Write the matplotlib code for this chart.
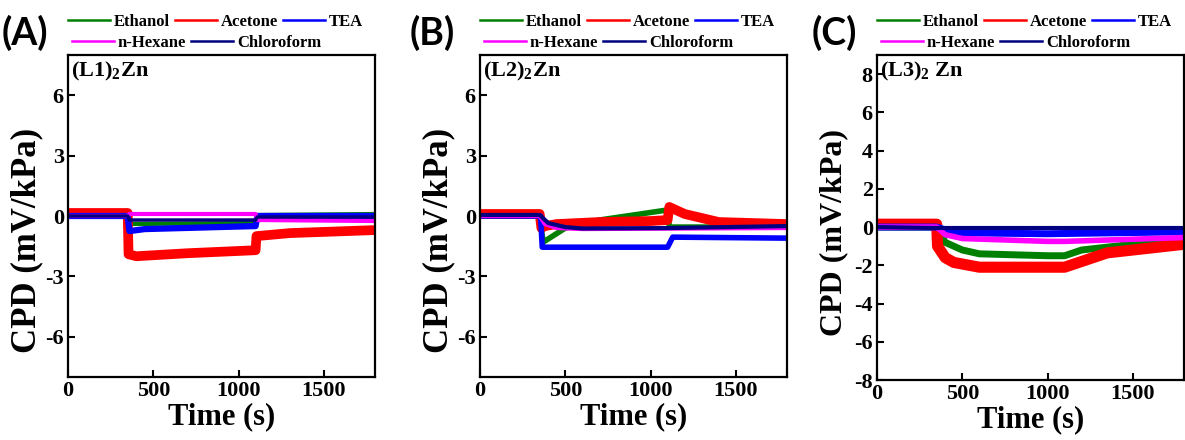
import matplotlib
matplotlib.use("Agg")
import matplotlib.pyplot as plt
from matplotlib.lines import Line2D

plt.rcParams['font.family'] = 'Liberation Serif'
plt.rcParams['font.weight'] = 'bold'
plt.rcParams['axes.unicode_minus'] = False
plt.rcParams['mathtext.fontset'] = 'custom'
plt.rcParams['mathtext.rm'] = 'Liberation Serif:bold'
plt.rcParams['mathtext.bf'] = 'Liberation Serif:bold'
plt.rcParams['mathtext.it'] = 'Liberation Serif:bold'

# --- series names / colours ---
names = ['Ethanol', 'Acetone', 'TEA', 'n-Hexane', 'Chloroform']
colores = {'Ethanol': '#008000', 'Acetone': '#ff0000', 'TEA': '#0000ff',
           'n-Hexane': '#ff00ff', 'Chloroform': '#000080'}

# --- panel A: (L1)2Zn  (time s, CPD mV/kPa) ---
tA_eth = [0, 350, 360, 1100, 1110, 1800]
vA_eth = [0.0, 0.0, -0.4, -0.35, 0.05, 0.1]
tA_ace = [0, 350, 355, 400, 700, 1100, 1105, 1300, 1800]
vA_ace = [0.15, 0.15, -1.9, -2.0, -1.85, -1.7, -1.0, -0.85, -0.7]
tA_tea = [0, 350, 360, 450, 1100, 1110, 1800]
vA_tea = [0.0, 0.0, -0.75, -0.65, -0.5, 0.0, 0.0]
tA_hex = [0, 350, 360, 1100, 1110, 1800]
vA_hex = [0.0, 0.0, 0.1, 0.1, -0.2, -0.25]
tA_chl = [0, 350, 360, 1100, 1110, 1800]
vA_chl = [0.0, 0.0, -0.2, -0.2, -0.05, -0.05]

# --- panel B: (L2)2Zn ---
tB_eth = [0, 350, 370, 500, 700, 1100, 1110, 1800]
vB_eth = [0.0, 0.0, -1.3, -0.6, -0.2, 0.3, -0.55, -0.55]
tB_ace = [0, 350, 360, 380, 450, 700, 1000, 1100, 1110, 1200, 1400, 1800]
vB_ace = [0.1, 0.1, -0.6, -0.5, -0.4, -0.3, -0.25, -0.2, 0.45, 0.1, -0.3, -0.4]
tB_tea = [0, 355, 365, 1100, 1130, 1800]
vB_tea = [0.0, 0.0, -1.55, -1.55, -1.05, -1.1]
tB_hex = [0, 350, 380, 450, 600, 1800]
vB_hex = [0.0, 0.0, -0.4, -0.6, -0.65, -0.6]
tB_chl = [0, 350, 400, 500, 600, 1100, 1800]
vB_chl = [0.05, 0.05, -0.35, -0.55, -0.62, -0.6, -0.5]

# --- panel C: (L3)2 Zn ---
tC_eth = [0, 350, 400, 500, 600, 1000, 1100, 1200, 1800]
vC_eth = [0.0, 0.0, -0.8, -1.2, -1.4, -1.5, -1.5, -1.2, -0.6]
tC_ace = [0, 350, 355, 400, 450, 600, 1100, 1350, 1800]
vC_ace = [0.15, 0.15, -1.0, -1.6, -1.85, -2.1, -2.1, -1.35, -0.9]
tC_tea = [0, 350, 450, 1000, 1800]
vC_tea = [0.0, 0.0, -0.3, -0.35, -0.25]
tC_hex = [0, 350, 400, 500, 1000, 1100, 1800]
vC_hex = [0.0, 0.0, -0.4, -0.6, -0.75, -0.75, -0.55]
tC_chl = [0, 350, 1800]
vC_chl = [0.0, -0.05, -0.05]

paneles = [
    {'letra': '(A)', 'titulo': r'(L1)$_\mathbf{2}$Zn',
     'datos': [(tA_eth, vA_eth), (tA_ace, vA_ace), (tA_tea, vA_tea), (tA_hex, vA_hex), (tA_chl, vA_chl)],
     'lw': [3, 7, 4.5, 3, 2.5], 'ylim': (-8, 8), 'yticks': [-6, -3, 0, 3, 6]},
    {'letra': '(B)', 'titulo': r'(L2)$_\mathbf{2}$Zn',
     'datos': [(tB_eth, vB_eth), (tB_ace, vB_ace), (tB_tea, vB_tea), (tB_hex, vB_hex), (tB_chl, vB_chl)],
     'lw': [4, 7, 4, 3, 3], 'ylim': (-8, 8), 'yticks': [-6, -3, 0, 3, 6]},
    {'letra': '(C)', 'titulo': r'(L3)$_\mathbf{2}$ Zn',
     'datos': [(tC_eth, vC_eth), (tC_ace, vC_ace), (tC_tea, vC_tea), (tC_hex, vC_hex), (tC_chl, vC_chl)],
     'lw': [5, 8, 5, 4, 3], 'ylim': (-8, 9), 'yticks': list(range(-8, 9, 2))},
]

W, H = 1185, 440
fig = plt.figure(figsize=(W / 100, H / 100), dpi=100)

# axes boxes in pixels: left, top, right, bottom
cajas = [(68, 55, 375, 377), (480, 55, 787, 377), (877, 55, 1184, 380)]
letras_x = [2, 410, 812]
ylabel_pos = [(43, 240, 25), (455, 240, 25), (848, 233, 23)]  # right edge x, centre y, size

orden = [0, 1, 2, 3, 4]  # ethanol, acetone, TEA, hexane, chloroform

for p, caja, lx, (yx, yy, ys) in zip(paneles, cajas, letras_x, ylabel_pos):
    l, t, r, b = caja
    ax = fig.add_axes([l / W, 1 - b / H, (r - l) / W, (b - t) / H])
    for i in orden:
        tt, vv = p['datos'][i]
        ax.plot(tt, vv, color=colores[names[i]], lw=p['lw'][i], solid_joinstyle='round')
    ax.set_xlim(0, 1800)
    ax.set_ylim(*p['ylim'])
    ax.set_xticks([0, 500, 1000, 1500])
    ax.set_yticks(p['yticks'])
    ax.tick_params(direction='in', length=5, width=1.5, labelsize=16, pad=3,
                   top=False, right=False)
    for lab in ax.get_xticklabels() + ax.get_yticklabels():
        lab.set_fontweight('bold')
    for s in ax.spines.values():
        s.set_linewidth(1.6)
    ax.set_xlabel('Time (s)', fontsize=22, fontweight='bold', labelpad=1)
    ax.set_ylabel('CPD (mV/kPa)', fontsize=ys, fontweight='bold')
    ax.yaxis.set_label_coords((yx - l) / (r - l), (b - yy) / (b - t))
    ax.text(0.01, 0.985, p['titulo'], transform=ax.transAxes, fontsize=16,
            fontweight='bold', va='top', ha='left')

    # legend: two rows above the axes
    h1 = [Line2D([], [], color=colores[n], lw=1.8) for n in names[:3]]
    h2 = [Line2D([], [], color=colores[n], lw=1.8) for n in names[3:]]
    kw = dict(frameon=False, prop={'family': 'Liberation Serif', 'weight': 'bold', 'size': 12},
              handlelength=2.5, handletextpad=0.25, columnspacing=0.3, borderpad=0,
              borderaxespad=0, loc='center left')
    leg1 = ax.legend(h1, names[:3], ncol=3, bbox_to_anchor=(0, 1 + (55 - 22) / (b - t)), **kw)
    ax.add_artist(leg1)
    ax.legend(h2, names[3:], ncol=2, bbox_to_anchor=(4 / (r - l), 1 + (55 - 43) / (b - t)), **kw)

    fig.text(lx / W, 1 - 33 / H, p['letra'], fontsize=27, fontweight='bold',
             family='Lato', ha='left', va='center')

fig.savefig('out.png', dpi=100)
